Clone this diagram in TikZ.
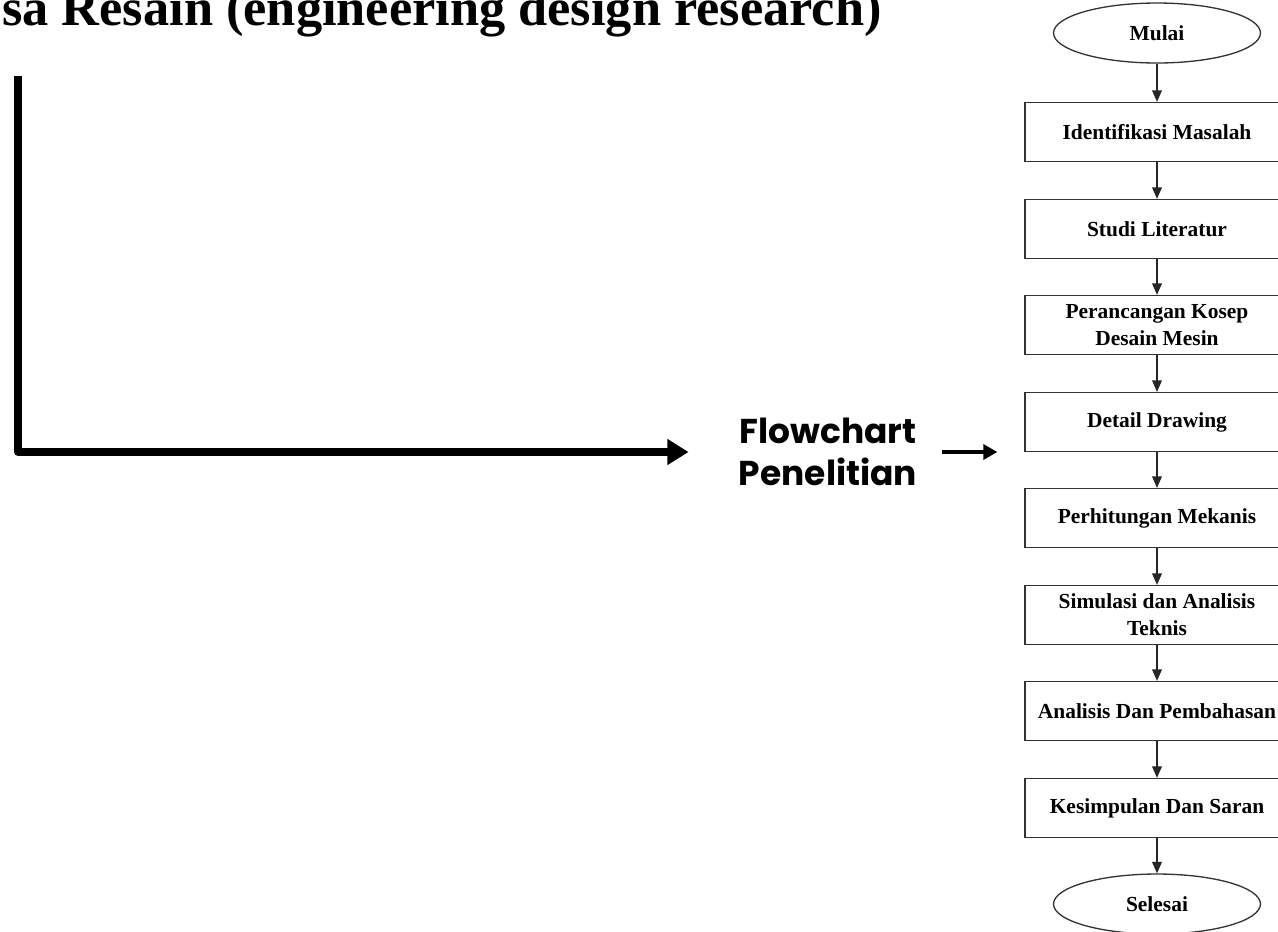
\documentclass[tikz,border=0pt]{standalone}
\usepackage{fontspec}
\setmainfont{Liberation Serif}
\newfontfamily\gothfont{Poppins}
\usepackage{tikz}
\usetikzlibrary{arrows.meta,shapes.geometric}

\begin{document}
\begin{tikzpicture}[x=0.02cm,y=-0.02cm,
  stepbox/.style={rectangle,draw=black!80,line width=.75pt,minimum width=5.28cm,minimum height=1.18cm,
    align=center,inner sep=1pt,font=\fontsize{12.2}{15.4}\selectfont\bfseries},
  terminal/.style={ellipse,draw=black!80,line width=.75pt,minimum width=4.14cm,minimum height=1.2cm,
    inner sep=0pt,font=\fontsize{12.2}{15.4}\selectfont\bfseries},
  flowarr/.style={draw=black!85,line width=.75pt,-{Triangle[length=6.5pt,width=5.5pt]}},
  bigarr/.style={draw=black,line width=4.2pt,line join=round,-{Triangle[length=12pt,width=14pt]}},
  midarr/.style={draw=black,line width=2.6pt,-{Triangle[length=8pt,width=8.5pt]}}]
  \useasboundingbox (0,0) rectangle (1278,931);
  % title, cut off by the page edge
  \node[anchor=base east,inner sep=0pt,font=\fontsize{29.8}{32}\selectfont\bfseries] (judul) at (882,25)
    {sa Resain (engineering design research)};
  \node[inner sep=0pt,align=center,font=\gothfont\bfseries\fontsize{19.6}{24}\selectfont] (flowlbl) at (828,452)
    {Flowchart\\Penelitian};
  \coordinate (ltop) at (18,76);
  % flowchart column
  \node[terminal] (mulai)    at (1157, 33) {Mulai};
  \node[stepbox]  (ident)    at (1157,132) {Identifikasi Masalah};
  \node[stepbox]  (studi)    at (1157,229) {Studi Literatur};
  \node[stepbox]  (rancang)  at (1157,325) {Perancangan Kosep\\Desain Mesin};
  \node[stepbox]  (detail)   at (1157,422) {Detail Drawing};
  \node[stepbox]  (hitung)   at (1157,518) {Perhitungan Mekanis};
  \node[stepbox]  (simul)    at (1157,615) {Simulasi dan Analisis\\Teknis};
  \node[stepbox]  (analisis) at (1157,711) {Analisis Dan Pembahasan};
  \node[stepbox]  (simpul)   at (1157,808) {Kesimpulan Dan Saran};
  \node[terminal] (selesai)  at (1157,904) {Selesai};
  \foreach \u/\v in {mulai/ident,ident/studi,studi/rancang,rancang/detail,detail/hitung,
                     hitung/simul,simul/analisis,analisis/simpul,simpul/selesai}
    \draw[flowarr] (\u) -- (\v);
  % pointers to the label and to the chart
  \draw[bigarr,shorten >=1cm] (ltop) |- (flowlbl.west);
  \draw[midarr,shorten <=0.5cm,shorten >=0.54cm] (flowlbl.east) -- (flowlbl.east -| detail.west);
\end{tikzpicture}
\end{document}
